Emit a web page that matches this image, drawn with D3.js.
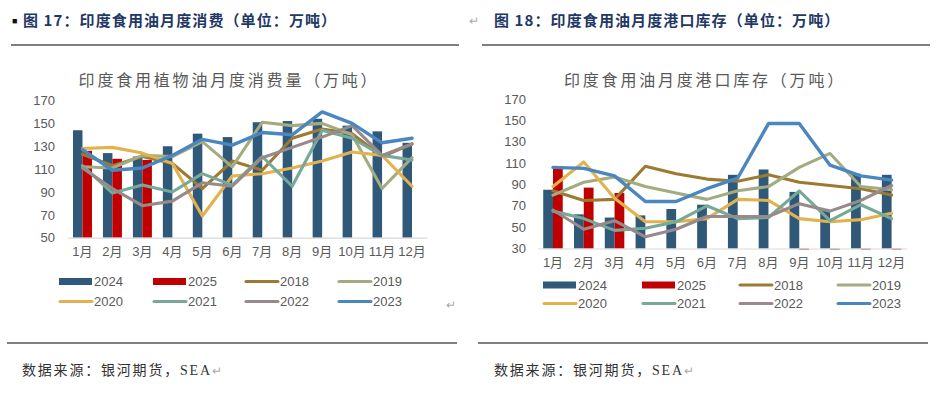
<!DOCTYPE html>
<html>
<head>
<meta charset="utf-8">
<script src="https://cdn.jsdelivr.net/npm/d3@7"></script>
<style>
  body { margin: 0; background: #fff; }
  svg { display: block; }
</style>
</head>
<body>
<svg id="page" width="937" height="393"></svg>
<script>
// ---------------- DATA ----------------
const months = ["1月","2月","3月","4月","5月","6月","7月","8月","9月","10月","11月","12月"];
const barKeys = ["2024", "2025"];
const lineKeys = ["2018", "2019", "2020", "2021", "2022", "2023"];

// fig 17: monthly consumption
const cons2024 = [144, 124, 121, 130, 141, 138, 151, 152, 154, 148, 143, 133];
const cons2025 = [126, 119, 118, null, null, null, null, null, null, null, null, null];
const cons2018 = [123, 113, 121, 115, 93, 117, 109, 137, 145, 141, 121, 132];
const cons2019 = [112, 111, 122, 121, 134, 112, 151, 148, 150, 140, 93, 120];
const cons2020 = [128, 129, 124, 115, 69, 104, 106, 111, 117, 125, 122, 95];
const cons2021 = [113, 89, 96, 90, 106, 96, 121, 95, 144, 137, 122, 118];
const cons2022 = [111, 93, 78, 82, 98, 95, 120, 129, 138, 148, 122, 132];
const cons2023 = [127, 109, 111, 122, 136, 131, 142, 140, 160, 150, 133, 137];

// fig 18: monthly port stocks
const stock2024 = [85, 62, 59, 61, 67, 71, 99, 104, 83, 66, 100, 99];
const stock2025 = [105, 87, 82, null, null, null, null, null, 0, 0, 0, 0];
const stock2018 = [84, 75, 76, 107, 100, 95, 93, 99, 92, 89, 86, 80];
const stock2019 = [80, 92, 97, 88, 82, 76, 84, 88, 106, 119, 88, 85];
const stock2020 = [88, 111, 77, 55, 55, 58, 76, 75, 58, 55, 57, 63];
const stock2021 = [65, 58, 47, 49, 55, 70, 58, 59, 84, 56, 71, 58];
const stock2022 = [66, 48, 56, 41, 48, 60, 60, 60, 72, 65, 75, 89];
const stock2023 = [106, 105, 98, 74, 74, 86, 96, 147, 147, 108, 98, 94];

const colors = {
  "2024": "#2F5879", "2025": "#C00000",
  "2018": "#9C7A31", "2019": "#A3AB80", "2020": "#E2B24F",
  "2021": "#77A999", "2022": "#978A8A", "2023": "#4A86BF"
};

const FONT = '"Liberation Sans", "Noto Sans CJK SC", sans-serif';
const CJK = '"Noto Sans CJK SC", sans-serif';
const svg = d3.select("#page");

// ---------------- PAGE FRAME ----------------
svg.append("text").attr("x", 12).attr("y", 24).attr("font-size", 9).attr("fill", "#111").text("■");
svg.append("text").attr("x", 23).attr("y", 26)
  .attr("font-family", CJK).attr("font-weight", 700).attr("font-size", 15).attr("letter-spacing", 1.1).attr("fill", "#1F3864")
  .text("图 17：印度食用油月度消费（单位：万吨）");
svg.append("text").attr("x", 469).attr("y", 25).attr("font-size", 12).attr("fill", "#aaa").text("↵");
svg.append("text").attr("x", 494).attr("y", 26)
  .attr("font-family", CJK).attr("font-weight", 700).attr("font-size", 15).attr("letter-spacing", 1.1).attr("fill", "#1F3864")
  .text("图 18：印度食用油月度港口库存（单位：万吨）");

[[11, 459], [482, 930]].forEach(([a, b]) => {
  svg.append("line").attr("x1", a).attr("x2", b).attr("y1", 45).attr("y2", 45).attr("stroke", "#000").attr("stroke-width", 1.2);
  svg.append("line").attr("x1", a - 4).attr("x2", b - 2).attr("y1", 343).attr("y2", 343).attr("stroke", "#000").attr("stroke-width", 1.2);
});

[22, 494].forEach(x0 => {
  const t = svg.append("text").attr("x", x0).attr("y", 375)
    .attr("font-family", CJK).attr("font-size", 14).attr("letter-spacing", 1.8).attr("fill", "#333");
  t.append("tspan").text("数据来源：银河期货，");
  t.append("tspan").attr("font-family", '"Liberation Serif", serif').text("SEA");
  t.append("tspan").attr("fill", "#aaa").attr("font-size", 12).text("↵");
});
svg.append("text").attr("x", 446).attr("y", 309).attr("font-size", 12).attr("fill", "#aaa").text("↵");

// ---------------- CHARTS ----------------
function drawChart(c) {
  const g = svg.append("g");

  const x = d3.scaleBand().domain(months).range([c.x0, c.x1]).paddingInner(0.366).paddingOuter(0.183);
  const xb = d3.scaleBand().domain(barKeys).range([0, x.bandwidth()]);
  const y = d3.scaleLinear().domain(c.yDomain).range([c.yBase, c.yTop]);

  g.append("text").attr("x", c.titleX).attr("y", 86).attr("text-anchor", "middle")
    .attr("font-family", CJK).attr("font-size", 16).attr("letter-spacing", 2.8).attr("fill", "#595959")
    .text(c.title);

  // y labels
  const ya = g.append("g").attr("transform", `translate(${c.yLabelX},0)`)
    .call(d3.axisLeft(y).tickValues(d3.range(c.yDomain[0], c.yDomain[1] + 1, 20)).tickSize(0).tickPadding(0));
  ya.select(".domain").remove();
  ya.selectAll("text").attr("font-family", FONT).attr("font-size", 13).attr("fill", "#595959");

  // bars
  [[barKeys[0], c.bars[0]], [barKeys[1], c.bars[1]]].forEach(([key, vals]) => {
    const rows = months.map((m, i) => ({ m, v: vals[i] })).filter(d => d.v != null);
    g.append("g").selectAll("rect").data(rows).join("rect")
      .attr("x", d => x(d.m) + xb(key))
      .attr("width", xb.bandwidth())
      .attr("y", d => Math.min(y(d.v), c.yBase))
      .attr("height", d => d.v >= c.yDomain[0] ? c.yBase - y(d.v) : 1.5)
      .attr("fill", colors[key])
      .attr("opacity", d => d.v >= c.yDomain[0] ? 1 : 0.6);
  });

  // x axis
  const xa = g.append("g").attr("transform", `translate(0,${c.yBase})`)
    .call(d3.axisBottom(x).tickSize(0).tickSizeOuter(0).tickPadding(9));
  xa.select(".domain").attr("stroke", "#D9D9D9").attr("stroke-width", 1.2);
  xa.selectAll("text").attr("font-family", FONT).attr("font-size", 13).attr("fill", "#595959");

  // lines
  const line = d3.line()
    .x((d, i) => x(months[i]) + x.bandwidth() / 2)
    .y(d => y(d));
  lineKeys.forEach((key, k) => {
    g.append("path")
      .datum(c.lines[k])
      .attr("fill", "none")
      .attr("stroke", colors[key])
      .attr("stroke-width", key === "2023" ? 3.4 : 3.1)
      .attr("stroke-linejoin", "round")
      .attr("stroke-linecap", "round")
      .attr("d", line);
  });

  // legend
  const order = ["2024", "2025", "2018", "2019", "2020", "2021", "2022", "2023"];
  order.forEach((key, i) => {
    const lx = c.legendCols[i % 4];
    const ly = c.legendRows[Math.floor(i / 4)];
    if (barKeys.includes(key)) {
      g.append("rect").attr("x", lx).attr("y", ly - 3.5).attr("width", 33).attr("height", 7).attr("fill", colors[key]);
    } else {
      g.append("line").attr("x1", lx + 1).attr("x2", lx + 33).attr("y1", ly).attr("y2", ly)
        .attr("stroke", colors[key]).attr("stroke-width", 3).attr("stroke-linecap", "round");
    }
    g.append("text").attr("x", lx + 35).attr("y", ly).attr("dy", "0.35em")
      .attr("font-family", FONT).attr("font-size", 13).attr("fill", "#595959").text(key);
  });
}

drawChart({
  title: "印度食用植物油月度消费量（万吨）",
  titleX: 229,
  x0: 67.5, x1: 427,
  yDomain: [50, 170], yBase: 237.7, yTop: 100.5,
  yLabelX: 55,
  bars: [cons2024, cons2025],
  lines: [cons2018, cons2019, cons2020, cons2021, cons2022, cons2023],
  legendCols: [59, 153, 245, 338],
  legendRows: [281.5, 301.5]
});

drawChart({
  title: "印度食用油月度港口库存（万吨）",
  titleX: 705,
  x0: 537.6, x1: 907,
  yDomain: [30, 170], yBase: 248.5, yTop: 99,
  yLabelX: 526,
  bars: [stock2024, stock2025],
  lines: [stock2018, stock2019, stock2020, stock2021, stock2022, stock2023],
  legendCols: [543, 642, 739, 837],
  legendRows: [285, 303.5]
});
</script>
</body>
</html>
